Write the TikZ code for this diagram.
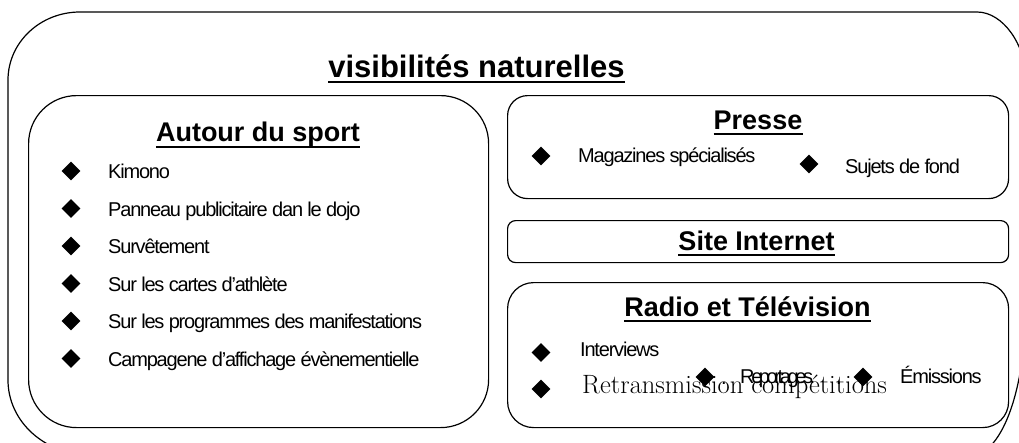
\documentclass[tikz,border=0pt]{standalone}
\usepackage{fontspec}
\usetikzlibrary{shapes.geometric}
\newfontfamily\arialfont{Liberation Sans}
\newfontfamily\arialtight[LetterSpace=-6]{Liberation Sans}
\newfontfamily\arialsqueeze[LetterSpace=-17]{Liberation Sans}
\begin{document}
\begin{tikzpicture}[x=1pt,y=-1pt,
  outline/.style={draw=black, line width=1.2pt},
  box/.style={draw=black, line width=1.2pt, inner sep=0pt, anchor=north west},
  head/.style={font=\arialfont\bfseries\fontsize{27}{30}\selectfont, inner sep=0pt, anchor=base},
  bighead/.style={font=\arialfont\bfseries\fontsize{31}{35}\selectfont, inner sep=0pt, anchor=base},
  item/.style={font=\arialtight\fontsize{20}{23}\selectfont, inner sep=0pt, anchor=base west},
  squeezed/.style={font=\arialsqueeze\fontsize{20}{23}\selectfont, inner sep=0pt, anchor=base west},
  serifitem/.style={font=\rmfamily\fontsize{26.5}{30}\selectfont, inner sep=0pt, anchor=base west},
  bullet/.style={diamond, fill=black, draw=none, minimum width=19pt, minimum height=19pt, inner sep=0pt},
  uline/.style={line width=2pt}]
\useasboundingbox (0,0) rectangle (1019,442);
\fill[white] (-10,-10) rectangle (1040,470);

% outer container (its right side and bottom run off the page)
\draw[outline] (1026,300)
  .. controls (1026,395) and (1000,456) .. (970,456) -- (96,456)
  .. controls (44,456) and (8,421) .. (8,380) -- (8,80)
  .. controls (8,42.4) and (40.2,12) .. (80,12) -- (977,12)
  .. controls (1003,12) and (1026,45) .. (1026,80);

\node[bighead] (title) at (476.5,77) {visibilités naturelles};
\draw[uline] ([yshift=-5pt]title.base west) -- ([yshift=-5pt]title.base east);

% inner boxes
\node[box, rounded corners=48pt, minimum width=460pt, minimum height=332pt] (sport) at (28,95) {};
\node[box, rounded corners=20pt, minimum width=501pt, minimum height=103pt] (presse) at (507,95) {};
\node[box, rounded corners=8pt, minimum width=501pt, minimum height=42pt] (site) at (507,220) {};
\node[box, rounded corners=26pt, minimum width=501pt, minimum height=145pt] (radio) at (507,282) {};

% Autour du sport
\node[head] (hsport) at (258,141.7) {Autour du sport};
\draw[uline] ([yshift=-5.5pt]hsport.base west) -- ([yshift=-5.5pt]hsport.base east);
\foreach \i/\t/\y in {1/Kimono/178.5,
                      2/Panneau publicitaire dan le dojo/216,
                      3/Survêtement/253.5,
                      4/Sur les cartes d’athlète/291,
                      5/Sur les programmes des manifestations/328.5,
                      6/Campagene d’affichage évènementielle/366}{
  \node[bullet] (sb\i) at (71,{\y-7.5}) {};
  \node[item] (si\i) at (108,\y) {\t};
}

% Presse
\node[head] (hpresse) at (758,129) {Presse};
\draw[uline] ([yshift=-4.5pt]hpresse.base west) -- ([yshift=-4.5pt]hpresse.base east);
\node[bullet] (pb1) at (541,156) {};
\node[item] (pi1) at (578,162) {Magazines spécialisés};
\node[bullet] (pb2) at (809,164) {};
\node[item] (pi2) at (845,173) {Sujets de fond};

% Site Internet
\node[head] (hsite) at (756.5,250.5) {Site Internet};
\draw[uline] ([yshift=-4pt]hsite.base west) -- ([yshift=-4pt]hsite.base east);

% Radio et Television
\node[head] (hradio) at (747.5,316.7) {Radio et Télévision};
\draw[uline] ([yshift=-4pt]hradio.base west) -- ([yshift=-4pt]hradio.base east);
\node[bullet] (rb1) at (541,352.5) {};
\node[item] (ri1) at (580,356.7) {Interviews};
\node[bullet] (rb2) at (541,389) {};
\node[serifitem] (ri2) at (582,393) {Retransmission compétitions};
\node[bullet] (rb3) at (705,377) {};
\node[item] (rd1) at (721,384) {.};
\node[squeezed] (ri3) at (740,383) {Reportages.};
\node[item] (rd2) at (836,384) {.};
\node[bullet] (rb4) at (863,377) {};
\node[item] (ri4) at (900,383) {Émissions};
\end{tikzpicture}
\end{document}
